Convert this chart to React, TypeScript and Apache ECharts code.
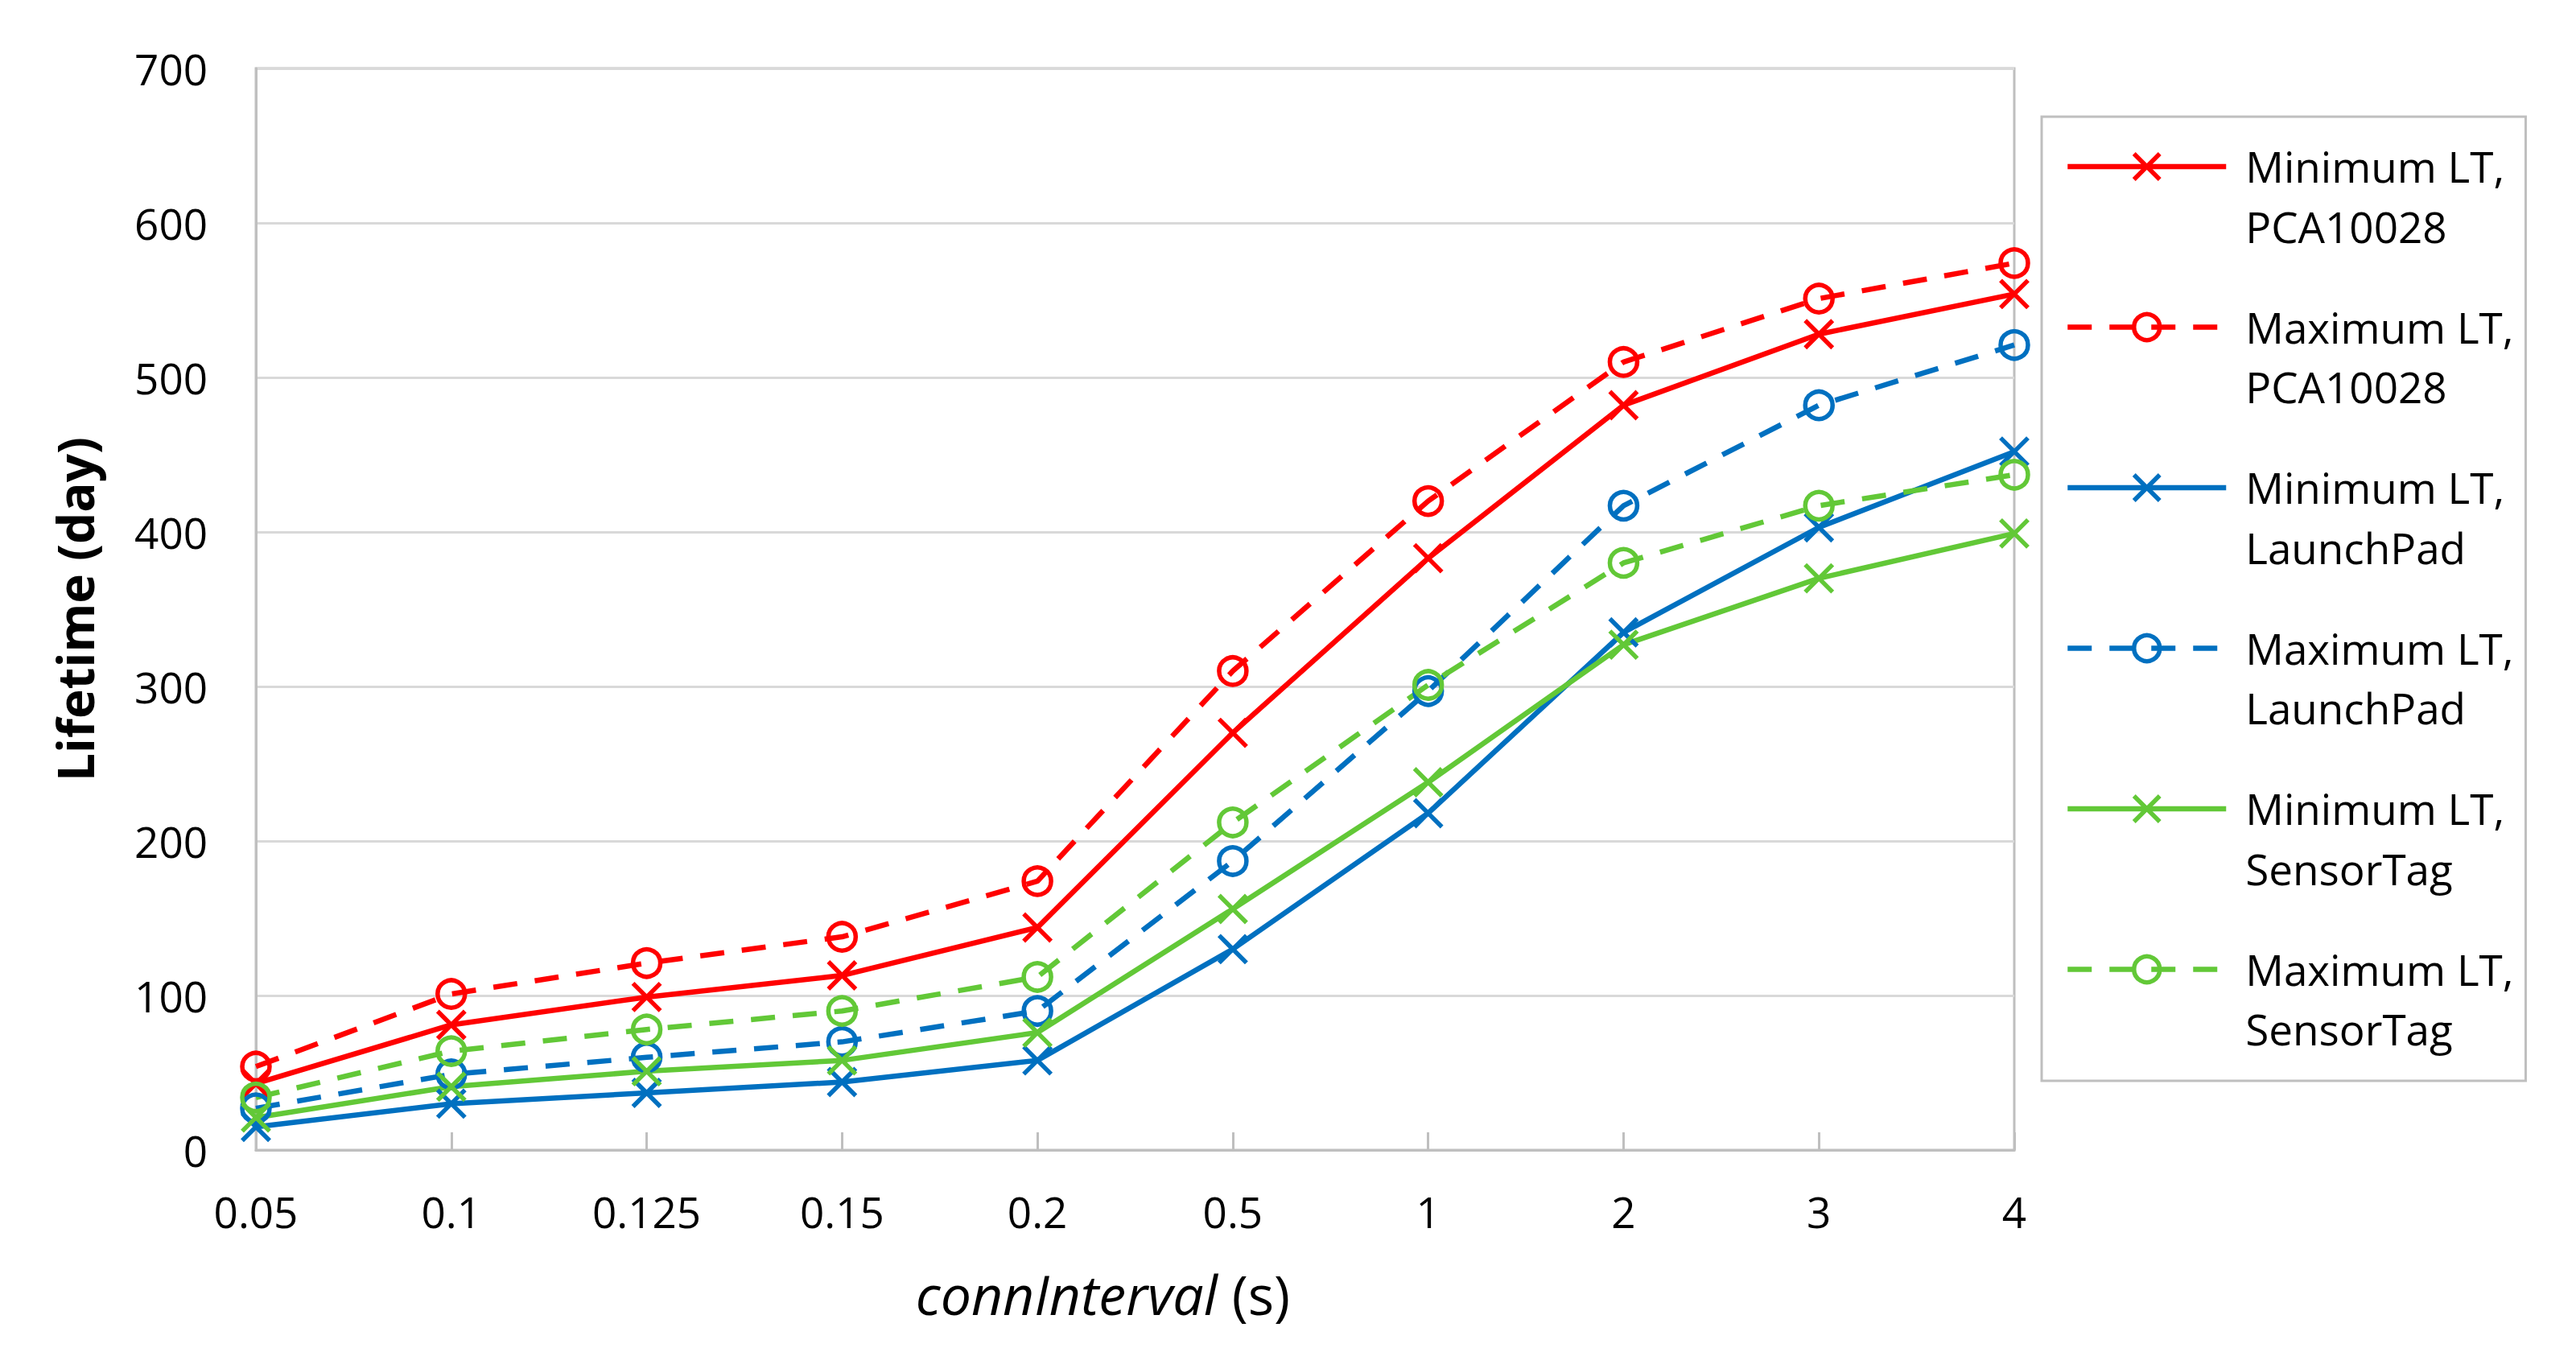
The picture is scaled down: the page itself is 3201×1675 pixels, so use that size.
import React, { useEffect, useRef } from 'react';
import * as echarts from 'echarts';

const categories = ['0.05', '0.1', '0.125', '0.15', '0.2', '0.5', '1', '2', '3', '4'];
const yTicks = { min: 0, max: 700, interval: 100 };

const minPCA10028 = [43, 81, 99, 113, 144, 270, 383, 482, 528, 554];
const maxPCA10028 = [54, 101, 121, 138, 174, 310, 420, 510, 551, 574];
const minLaunchPad = [15, 30, 37, 44, 58, 130, 218, 335, 403, 452];
const maxLaunchPad = [27, 49, 60, 70, 90, 187, 297, 417, 482, 521];
const minSensorTag = [21, 41, 51, 58, 76, 156, 238, 327, 370, 399];
const maxSensorTag = [34, 64, 78, 90, 112, 212, 301, 380, 417, 437];

const seriesDefs = [
  { name: 'Minimum LT,\nPCA10028', data: minPCA10028, color: '#FF0000', kind: 'min' },
  { name: 'Maximum LT,\nPCA10028', data: maxPCA10028, color: '#FF0000', kind: 'max' },
  { name: 'Minimum LT,\nLaunchPad', data: minLaunchPad, color: '#0070C0', kind: 'min' },
  { name: 'Maximum LT,\nLaunchPad', data: maxLaunchPad, color: '#0070C0', kind: 'max' },
  { name: 'Minimum LT,\nSensorTag', data: minSensorTag, color: '#62C837', kind: 'min' },
  { name: 'Maximum LT,\nSensorTag', data: maxSensorTag, color: '#62C837', kind: 'max' },
];

const FONT = "'Open Sans', 'Liberation Sans', sans-serif";
const X_PATH = 'path://M0,0L20,20M20,0L0,20';

export default function App() {
  const ref = useRef<HTMLDivElement>(null);

  useEffect(() => {
    document.body.style.margin = '0';
    const chart = echarts.init(ref.current as HTMLDivElement, null, { renderer: 'svg' });

    const series = seriesDefs.map((s) => ({
      type: 'line',
      name: s.name,
      data: s.data,
      symbol: s.kind === 'min' ? X_PATH : 'circle',
      symbolSize: 34,
      symbolKeepAspect: true,
      showAllSymbol: true,
      itemStyle: {
        color: s.kind === 'min' ? s.color : 'rgba(255,255,255,0)',
        borderColor: s.color,
        borderWidth: 5.5,
      },
      lineStyle: {
        color: s.color,
        width: 6.5,
        type: s.kind === 'min' ? 'solid' : [30, 22],
      },
      emphasis: { disabled: true },
      z: 2,
    }));

    chart.setOption({
      animation: false,
      backgroundColor: '#ffffff',
      grid: {
        left: 318,
        right: 698,
        top: 85,
        bottom: 246,
        show: true,
        borderColor: '#bfbfbf',
        borderWidth: 3,
        backgroundColor: 'transparent',
      },
      legend: {
        orient: 'vertical',
        left: 2537,
        top: 145,
        padding: [35, 15, 38, 29],
        itemWidth: 197,
        itemHeight: 40,
        itemGap: 72,
        selectedMode: false,
        borderColor: '#bfbfbf',
        borderWidth: 3,
        backgroundColor: '#ffffff',
        lineStyle: { width: 6.5 },
        itemStyle: { borderWidth: 5.5 },
        formatter: (name: string) => {
          const parts = name.split('\n');
          return '{a|' + parts[0] + '}\n{b|' + parts[1] + '}';
        },
        textStyle: {
          fontFamily: FONT,
          fontSize: 53,
          color: '#000000',
          padding: [0, 0, 0, 19],
          rich: {
            a: { fontFamily: FONT, fontSize: 53, color: '#000000', lineHeight: 96, verticalAlign: 'middle' },
            b: { fontFamily: FONT, fontSize: 53, color: '#000000', lineHeight: 1, verticalAlign: 'top' },
          },
        },
        data: seriesDefs.map((s) => s.name),
      },
      xAxis: {
        type: 'category',
        data: categories,
        boundaryGap: false,
        axisLine: { show: true, lineStyle: { color: '#bfbfbf', width: 3 } },
        axisTick: { show: true, inside: true, length: 22, lineStyle: { color: '#bfbfbf', width: 3 } },
        axisLabel: { fontFamily: FONT, fontSize: 53, color: '#000000', margin: 50 },
        splitLine: { show: false },
        name: '{i|connInterval} (s)',
        nameLocation: 'middle',
        nameGap: 144,
        nameTextStyle: {
          fontFamily: FONT,
          fontSize: 68,
          color: '#000000',
          padding: [0, 80, 0, 0],
          rich: { i: { fontFamily: FONT, fontSize: 68, fontStyle: 'italic', color: '#000000' } },
        },
      },
      yAxis: {
        type: 'value',
        min: yTicks.min,
        max: yTicks.max,
        interval: yTicks.interval,
        axisLine: { show: true, lineStyle: { color: '#bfbfbf', width: 3 } },
        axisTick: { show: false },
        axisLabel: { fontFamily: FONT, fontSize: 53, color: '#000000', margin: 60 },
        splitLine: { show: true, lineStyle: { color: '#d9d9d9', width: 3 } },
        name: 'Lifetime (day)',
        nameLocation: 'middle',
        nameGap: 194,
        nameTextStyle: { fontFamily: FONT, fontSize: 62, fontWeight: 'bold', color: '#000000' },
      },
      series,
    });

    return () => chart.dispose();
  }, []);

  return <div ref={ref} style={{ width: 3201, height: 1675 }} />;
}
